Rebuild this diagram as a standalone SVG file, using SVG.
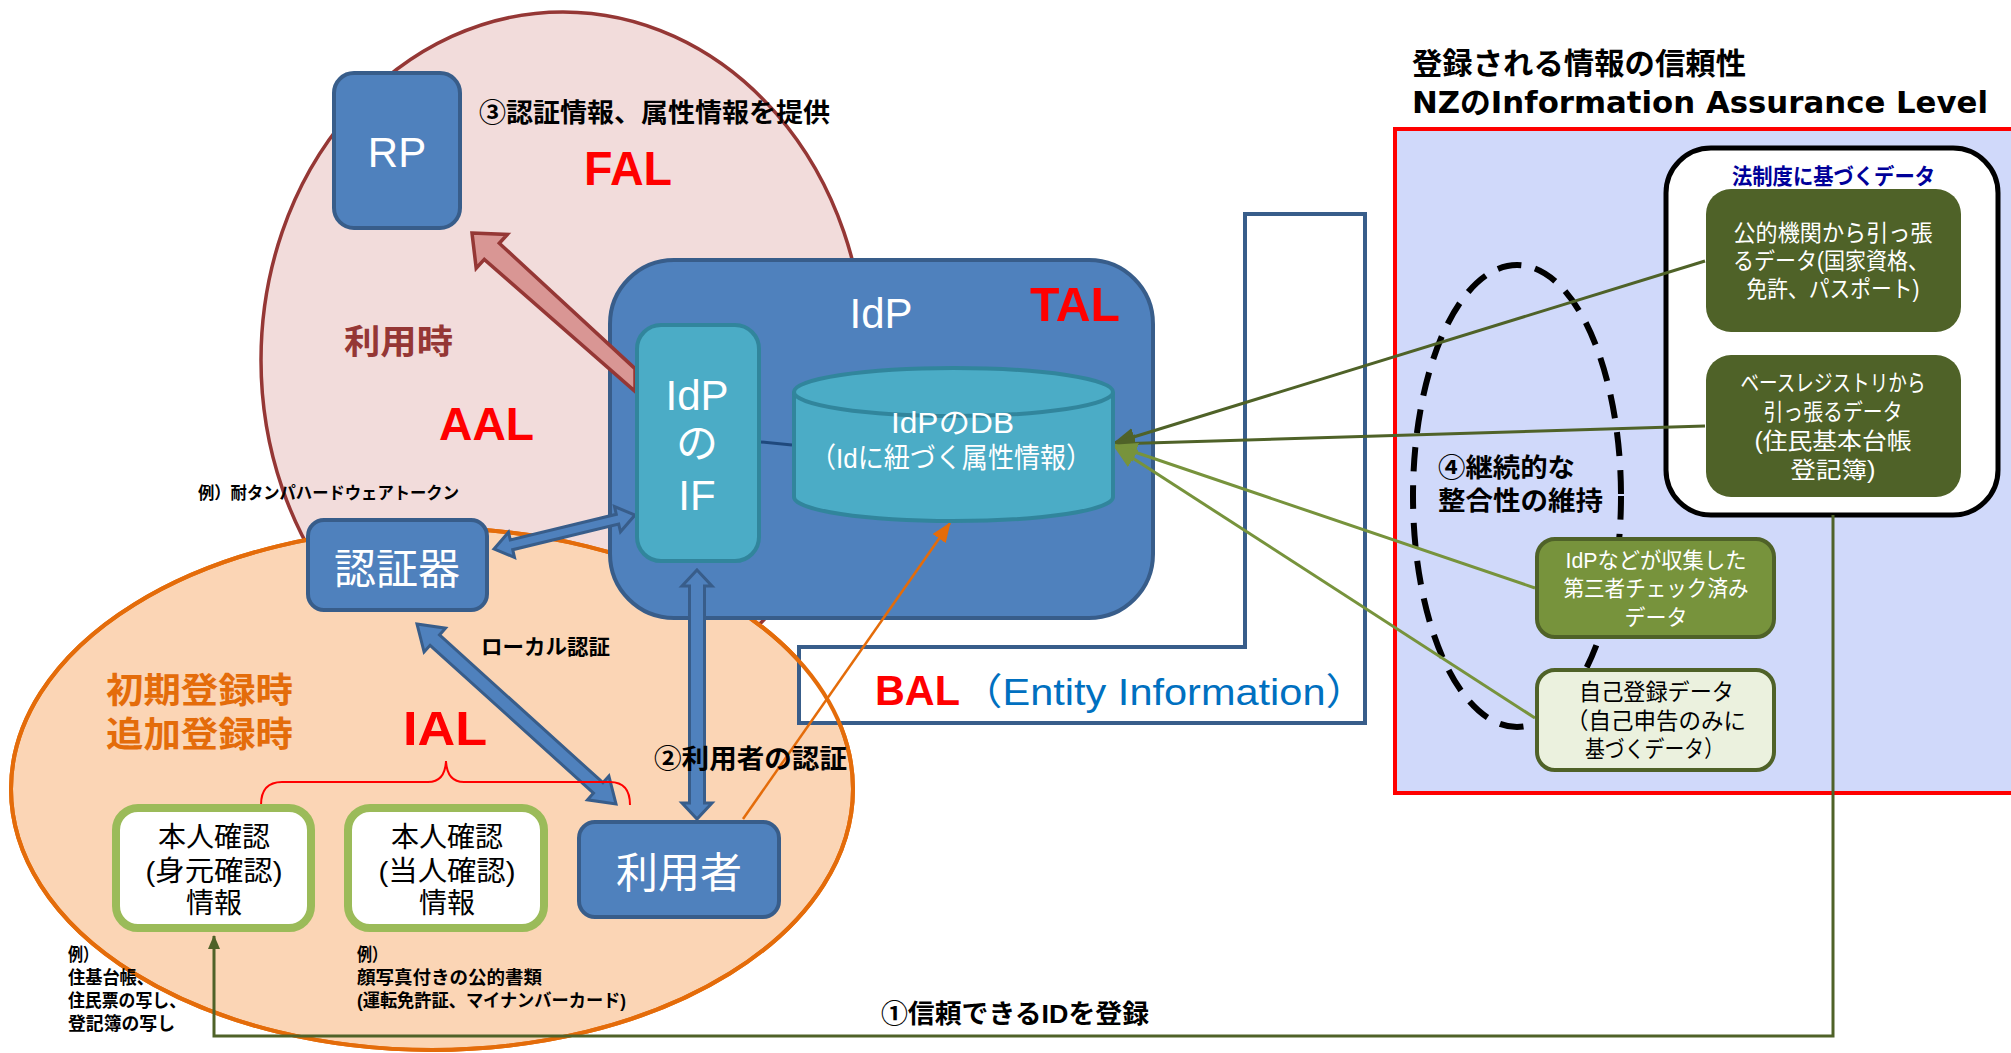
<svg xmlns="http://www.w3.org/2000/svg" width="2011" height="1053" viewBox="0 0 2011 1053">
  <style>
    text { font-family: "Liberation Sans", "Noto Sans CJK JP", sans-serif; }
    .w { fill: #ffffff; }
    .c { text-anchor: middle; }
    .b { font-weight: bold; fill: #000000; }
    .lvl { font-family: "Liberation Sans", "Noto Sans CJK JP", sans-serif; font-weight: bold; fill: #FF0000; }
    .blue { fill: #4F81BD; stroke: #385D8A; stroke-width: 4; }
    .teal { fill: #4BACC6; stroke: #31859C; stroke-width: 4; }
    .proof { fill: #ffffff; stroke: #9BBB59; stroke-width: 8; }
    .olive { fill: #4F6228; }
    .dblarrow { fill: #4F81BD; stroke: #385D8A; stroke-width: 3; stroke-linejoin: miter; }
    .line-olive { stroke: #4F6228; stroke-width: 3; fill: none; }
    .line-green { stroke: #77933C; stroke-width: 3; fill: none; }
  </style>
  <defs>
    <marker id="head-orange" markerUnits="userSpaceOnUse" markerWidth="20" markerHeight="16" refX="19" refY="8" orient="auto">
      <path d="M0,0 L20,8 L0,16 z" fill="#E46C0A"/>
    </marker>
    <marker id="head-olive" markerUnits="userSpaceOnUse" markerWidth="22" markerHeight="18" refX="21" refY="9" orient="auto">
      <path d="M0,0 L22,9 L0,18 z" fill="#4F6228"/>
    </marker>
    <marker id="head-green" markerUnits="userSpaceOnUse" markerWidth="24" markerHeight="20" refX="23" refY="10" orient="auto">
      <path d="M0,0 L24,10 L0,20 z" fill="#77933C"/>
    </marker>
    <marker id="head-olive-small" markerUnits="userSpaceOnUse" markerWidth="14" markerHeight="12" refX="13" refY="6" orient="auto">
      <path d="M0,0 L14,6 L0,12 z" fill="#4F6228"/>
    </marker>
  </defs>

  <!-- Background regions: usage-time (pink) and registration-time (orange) ellipses, BAL frame, NZ panel -->
  <g id="regions">
    <ellipse cx="563" cy="360" rx="302" ry="348" fill="#F2DCDB" stroke="#953735" stroke-width="3.5"/>
    <ellipse cx="432" cy="789" rx="421" ry="261" fill="#FBD5B5" stroke="#E46C0A" stroke-width="4"/>
    <polygon points="1245,214 1365,214 1365,723 799,723 799,647 1245,647" fill="#ffffff" stroke="#385D8A" stroke-width="4"/>
    <ellipse cx="432" cy="789" rx="421" ry="261" fill="none" stroke="#E46C0A" stroke-width="4"/>
    <rect x="1395" y="129" width="640" height="664" fill="#D0D9FA" stroke="#FF0000" stroke-width="4"/>
    <rect x="1666" y="148" width="332" height="367" rx="45" fill="#ffffff" stroke="#000000" stroke-width="5"/>
    <ellipse cx="1517" cy="496" rx="104" ry="231" fill="none" stroke="#000000" stroke-width="6" stroke-dasharray="24 14"/>
  </g>

  <!-- IdP container -->
  <g id="node-idp">
    <rect class="blue" x="610" y="260" width="543" height="358" rx="64"/>
    <text class="w c" x="881" y="328" font-size="42">IdP</text>
    <text class="lvl" x="1030" y="321" font-size="49" textLength="90" lengthAdjust="spacingAndGlyphs">TAL</text>
  </g>

  <!-- Connectors -->
  <g id="connectors">
    <!-- IdP to RP: assertion -->
    <polygon points="472,233 507.4,234.4 499.3,243.2 635,368.6 635,391.4 484.3,259.4 476.2,268.2" fill="#D99694" stroke="#953735" stroke-width="3.5" stroke-linejoin="miter"/>
    <!-- authenticator <-> IdP IF -->
    <polygon class="dblarrow" points="494,549 508.5,532.2 510.3,539.9 616.3,514.3 614.5,506.6 635,515 620.5,531.8 618.7,524.1 512.7,549.7 514.5,557.4"/>
    <!-- local authentication -->
    <polygon class="dblarrow" points="417,624 445.5,628.2 439.5,634.9 602.9,782.7 608.9,776 616,804 587.5,799.8 593.5,793.1 430.1,645.3 424.1,652"/>
    <!-- user <-> IdP IF -->
    <polygon class="dblarrow" points="697,570 712,586 704.5,586 704.5,803 712,803 697,819 682,803 689.5,803 689.5,586 682,586"/>
    <!-- IF to DB link -->
    <line x1="761" y1="442" x2="792" y2="445" stroke="#1F497D" stroke-width="3"/>
    <!-- user registers into DB -->
    <line x1="743" y1="819" x2="950" y2="523" stroke="#E46C0A" stroke-width="2.5" marker-end="url(#head-orange)"/>
    <!-- data sources feeding the DB -->
    <line class="line-olive" x1="1705" y1="261" x2="1114" y2="443" marker-end="url(#head-olive)"/>
    <line class="line-olive" x1="1705" y1="426" x2="1114" y2="444" marker-end="url(#head-olive)"/>
    <line class="line-green" x1="1535" y1="588" x2="1114" y2="445" marker-end="url(#head-green)"/>
    <line class="line-green" x1="1535" y1="718" x2="1114" y2="446" marker-end="url(#head-green)"/>
    <!-- trusted ID registration loop -->
    <path class="line-olive" d="M1833,515 V1036 H214 V936" marker-end="url(#head-olive-small)"/>
    <!-- IAL brace -->
    <path d="M261,805 Q261,782 282,782 L428,782 Q445,782 446,761 Q447,782 464,782 L610,782 Q630,782 630,805" fill="none" stroke="#FF0000" stroke-width="2"/>
  </g>

  <g id="node-idp-if">
    <rect class="teal" x="637" y="325" width="122" height="236" rx="24"/>
    <text class="w c" x="697" y="410" font-size="42">IdP</text>
    <text class="w c" x="697" y="458" font-size="42">の</text>
    <text class="w c" x="697" y="510" font-size="42">IF</text>
  </g>

  <g id="node-idp-db">
    <path class="teal" d="M794,392 L794,497 A159.5,24 0 0 0 1113,497 L1113,392"/>
    <ellipse class="teal" cx="953.5" cy="392" rx="159.5" ry="24"/>
    <text class="w" x="891" y="433" font-size="30" textLength="123" lengthAdjust="spacingAndGlyphs">IdPのDB</text>
    <text class="w" x="810" y="468" font-size="28" textLength="282" lengthAdjust="spacingAndGlyphs">（Idに紐づく属性情報）</text>
  </g>

  <g id="node-rp">
    <rect class="blue" x="334" y="73" width="126" height="155" rx="20"/>
    <text class="w c" x="397" y="167" font-size="42">RP</text>
  </g>

  <g id="node-authenticator">
    <rect class="blue" x="308" y="520" width="179" height="90" rx="16"/>
    <text class="w c" x="397" y="584" font-size="42">認証器</text>
  </g>

  <g id="node-user">
    <rect class="blue" x="579" y="822" width="200" height="95" rx="16"/>
    <text class="w c" x="679" y="888" font-size="42">利用者</text>
  </g>

  <g id="node-identity-proofing">
    <rect class="proof" x="116" y="808" width="195" height="120" rx="22"/>
    <text class="c" x="214" y="847" font-size="28">本人確認</text>
    <text class="c" x="214" y="881" font-size="28" textLength="137" lengthAdjust="spacingAndGlyphs">(身元確認)</text>
    <text class="c" x="214" y="913" font-size="28">情報</text>
  </g>

  <g id="node-identity-verification">
    <rect class="proof" x="348" y="808" width="196" height="120" rx="22"/>
    <text class="c" x="447" y="847" font-size="28">本人確認</text>
    <text class="c" x="447" y="881" font-size="28" textLength="137" lengthAdjust="spacingAndGlyphs">(当人確認)</text>
    <text class="c" x="447" y="913" font-size="28">情報</text>
  </g>

  <g id="node-public-agency-data">
    <rect class="olive" x="1706" y="189" width="255" height="143" rx="25"/>
    <text class="w c" x="1833" y="241" font-size="23" textLength="199" lengthAdjust="spacingAndGlyphs">公的機関から引っ張</text>
    <text class="w c" x="1831" y="269" font-size="23" textLength="196" lengthAdjust="spacingAndGlyphs">るデータ(国家資格、</text>
    <text class="w c" x="1833" y="297" font-size="23" textLength="173" lengthAdjust="spacingAndGlyphs">免許、パスポート)</text>
  </g>

  <g id="node-base-registry-data">
    <rect class="olive" x="1706" y="355" width="255" height="142" rx="25"/>
    <text class="w c" x="1833" y="391" font-size="23" textLength="185" lengthAdjust="spacingAndGlyphs">ベースレジストリから</text>
    <text class="w c" x="1833" y="420" font-size="23" textLength="139" lengthAdjust="spacingAndGlyphs">引っ張るデータ</text>
    <text class="w c" x="1833" y="449" font-size="23" textLength="157" lengthAdjust="spacingAndGlyphs">(住民基本台帳</text>
    <text class="w c" x="1833" y="478" font-size="23" textLength="85" lengthAdjust="spacingAndGlyphs">登記簿)</text>
  </g>

  <g id="node-third-party-checked-data">
    <rect x="1537" y="539" width="237" height="98" rx="18" fill="#77933C" stroke="#4F6228" stroke-width="4"/>
    <text class="w c" x="1656" y="568" font-size="22" textLength="181" lengthAdjust="spacingAndGlyphs">IdPなどが収集した</text>
    <text class="w c" x="1656" y="596" font-size="22" textLength="185" lengthAdjust="spacingAndGlyphs">第三者チェック済み</text>
    <text class="w c" x="1656" y="625" font-size="22" textLength="63" lengthAdjust="spacingAndGlyphs">データ</text>
  </g>

  <g id="node-self-registered-data">
    <rect x="1537" y="670" width="237" height="100" rx="18" fill="#EBF1DE" stroke="#4F6228" stroke-width="4"/>
    <text x="1579" y="700" font-size="23" textLength="155" lengthAdjust="spacingAndGlyphs">自己登録データ</text>
    <text x="1566" y="729" font-size="23" textLength="180" lengthAdjust="spacingAndGlyphs">（自己申告のみに</text>
    <text x="1585" y="757" font-size="23" textLength="139" lengthAdjust="spacingAndGlyphs">基づくデータ）</text>
  </g>

  <!-- Free labels -->
  <g id="labels">
    <text class="b" x="479" y="122" font-size="26" textLength="351" lengthAdjust="spacingAndGlyphs">③認証情報、属性情報を提供</text>
    <text class="lvl" x="584" y="185" font-size="49" textLength="88" lengthAdjust="spacingAndGlyphs">FAL</text>
    <text x="344" y="354" font-size="34" font-weight="bold" fill="#953735" textLength="109" lengthAdjust="spacingAndGlyphs">利用時</text>
    <text class="lvl" x="439" y="440" font-size="46" textLength="95" lengthAdjust="spacingAndGlyphs">AAL</text>
    <text class="b" x="198" y="499" font-size="17" textLength="261" lengthAdjust="spacingAndGlyphs">例）耐タンパハードウェアトークン</text>
    <text class="b" x="481" y="654" font-size="21" textLength="129" lengthAdjust="spacingAndGlyphs">ローカル認証</text>
    <text x="106" y="703" font-size="35" font-weight="bold" fill="#E46C0A" textLength="187" lengthAdjust="spacingAndGlyphs">初期登録時</text>
    <text x="106" y="747" font-size="35" font-weight="bold" fill="#E46C0A" textLength="187" lengthAdjust="spacingAndGlyphs">追加登録時</text>
    <text class="lvl" x="403" y="745" font-size="49" textLength="84" lengthAdjust="spacingAndGlyphs">IAL</text>
    <text class="b" x="654" y="768" font-size="26" textLength="193" lengthAdjust="spacingAndGlyphs">②利用者の認証</text>
    <text class="lvl" x="875" y="705" font-size="42" textLength="85" lengthAdjust="spacingAndGlyphs">BAL</text>
    <text x="961" y="705" font-size="37" fill="#0070C0" textLength="406" lengthAdjust="spacingAndGlyphs">（Entity Information）</text>

    <text class="b" x="68" y="961" font-size="18" textLength="30" lengthAdjust="spacingAndGlyphs">例）</text>
    <text class="b" x="68" y="984" font-size="18" textLength="86" lengthAdjust="spacingAndGlyphs">住基台帳、</text>
    <text class="b" x="68" y="1007" font-size="18" textLength="118" lengthAdjust="spacingAndGlyphs">住民票の写し、</text>
    <text class="b" x="68" y="1030" font-size="18" textLength="107" lengthAdjust="spacingAndGlyphs">登記簿の写し</text>
    <text class="b" x="357" y="961" font-size="18" textLength="30" lengthAdjust="spacingAndGlyphs">例）</text>
    <text class="b" x="357" y="984" font-size="18" textLength="185" lengthAdjust="spacingAndGlyphs">顔写真付きの公的書類</text>
    <text class="b" x="357" y="1007" font-size="18" textLength="269" lengthAdjust="spacingAndGlyphs">(運転免許証、マイナンバーカード)</text>

    <text class="b" x="881" y="1023" font-size="26" textLength="268" lengthAdjust="spacingAndGlyphs">①信頼できるIDを登録</text>

    <text class="b" x="1412" y="74" font-size="30" textLength="334" lengthAdjust="spacingAndGlyphs">登録される情報の信頼性</text>
    <text class="b" x="1412" y="113" font-size="30" style="font-family: 'DejaVu Sans', 'Noto Sans CJK JP', sans-serif;" textLength="576" lengthAdjust="spacingAndGlyphs">NZのInformation Assurance Level</text>
    <text x="1732" y="184" font-size="22" font-weight="bold" fill="#000099" textLength="203" lengthAdjust="spacingAndGlyphs">法制度に基づくデータ</text>
    <text class="b" x="1438" y="477" font-size="26" textLength="137" lengthAdjust="spacingAndGlyphs">④継続的な</text>
    <text class="b" x="1438" y="510" font-size="26" textLength="165" lengthAdjust="spacingAndGlyphs">整合性の維持</text>
  </g>
</svg>
